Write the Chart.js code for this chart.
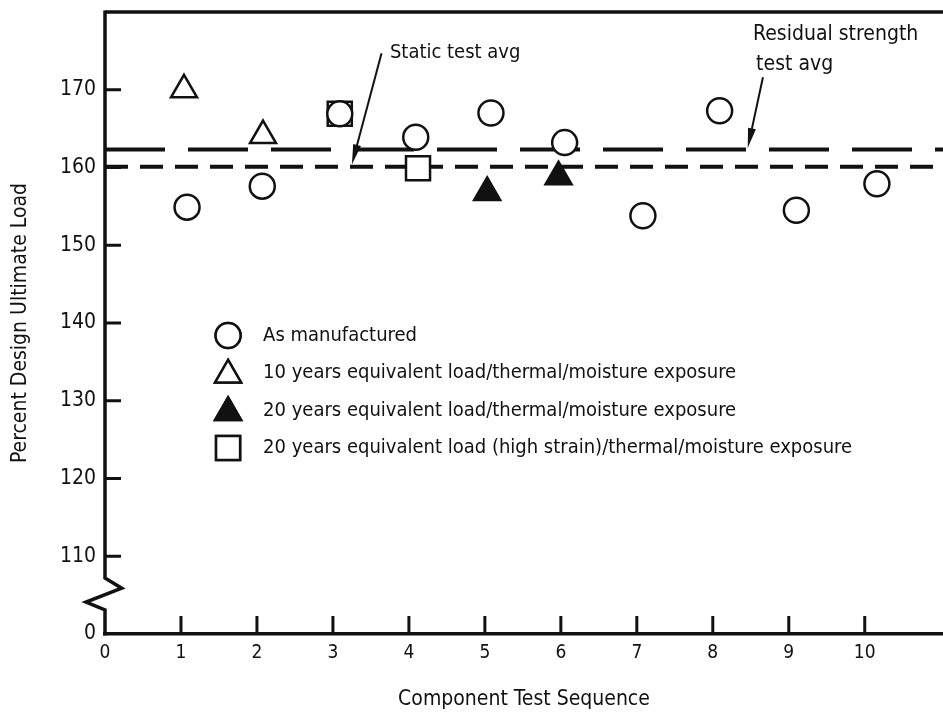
<!DOCTYPE html>
<html>
<head>
<meta charset="utf-8">
<script src="https://cdn.jsdelivr.net/npm/chart.js@4"></script>
<style>
  html, body { margin: 0; padding: 0; background: #fff; }
  #wrap { width: 943px; height: 717px; }
</style>
</head>
<body>
<div id="wrap"><canvas id="myChart" width="943" height="717"></canvas></div>
<script>
// values
const asManufacturedX = [1.08, 2.07, 3.09, 4.09, 5.08, 6.05, 7.08, 8.09, 9.1, 10.16];
const asManufacturedY = [154.9, 157.6, 166.9, 163.9, 167.0, 163.2, 153.8, 167.3, 154.5, 157.9];
const tenYearX = [1.04, 2.08];
const tenYearY = [170.0, 164.1];
const twentyYearX = [5.03, 5.97];
const twentyYearY = [156.8, 158.8];
const highStrainX = [3.09, 4.12];
const highStrainY = [166.9, 159.9];
const residualAvg = 162.3;
const staticAvg = 160.1;
const yTicks = [100, 110, 120, 130, 140, 150, 160, 170, 180];
const xTicks = [0, 1, 2, 3, 4, 5, 6, 7, 8, 9, 10];
const legendLabels = [
  "As manufactured",
  "10 years equivalent load/thermal/moisture exposure",
  "20 years equivalent load/thermal/moisture exposure",
  "20 years equivalent load (high strain)/thermal/moisture exposure"
];

const FONT = "'Liberation Sans Narrow', 'DejaVu Sans Condensed', sans-serif";
const INK = "#111";

const pts = (xs, ys) => xs.map((x, i) => ({x: x, y: ys[i]}));

// no extra room for half labels, the box is set by hand
const noPad = (scale) => {
  scale.paddingTop = 0;
  scale.paddingBottom = 0;
  scale.paddingLeft = 0;
  scale.paddingRight = 0;
};

// frame, inward ticks, axis break, legend, arrows
const paperPlugin = {
  id: "paper",
  afterDatasetsDraw(chart) {
    const ctx = chart.ctx;
    const xs = chart.scales.x, ys = chart.scales.y;
    const X = v => xs.getPixelForValue(v), Y = v => ys.getPixelForValue(v);
    const area = chart.chartArea;
    ctx.save();
    ctx.strokeStyle = INK;
    ctx.fillStyle = INK;
    ctx.lineCap = "butt";
    ctx.lineJoin = "miter";

    // top border
    ctx.lineWidth = 3.5;
    ctx.beginPath();
    ctx.moveTo(X(0), area.top);
    ctx.lineTo(chart.width, area.top);
    ctx.stroke();

    // y axis with the break
    ctx.lineWidth = 3.5;
    ctx.beginPath();
    ctx.moveTo(X(0), area.top - 1.5);
    ctx.lineTo(X(0), Y(107.2));
    ctx.lineTo(X(0.22), Y(105.9));
    ctx.lineTo(X(-0.25), Y(104.1));
    ctx.lineTo(X(0), Y(103.1));
    ctx.lineTo(X(0), area.bottom + 1.5);
    ctx.stroke();

    // inward ticks
    ctx.lineWidth = 3;
    yTicks.forEach(v => {
      if (v === 100 || v === 180) return;
      ctx.beginPath();
      ctx.moveTo(X(0), Y(v));
      ctx.lineTo(X(0) + 16, Y(v));
      ctx.stroke();
    });
    xTicks.forEach(v => {
      if (v === 0) return;
      ctx.beginPath();
      ctx.moveTo(X(v), area.bottom);
      ctx.lineTo(X(v), area.bottom - 18);
      ctx.stroke();
    });

    // legend
    const lx = X(1.62), ly = Y(138.4);
    const styles = ["circle", "triangle", "triangle", "rect"];
    const fills = ["#fff", "#fff", INK, "#fff"];
    const radii = [12.5, 15, 15, 17];
    ctx.font = "20px " + FONT;
    ctx.textBaseline = "middle";
    ctx.textAlign = "left";
    legendLabels.forEach((txt, i) => {
      const cy = ly + i * 37.5;
      ctx.lineWidth = 2.5;
      ctx.fillStyle = fills[i];
      Chart.helpers.drawPoint(ctx, {pointStyle: styles[i], radius: radii[i], rotation: 0, borderWidth: 2.5}, lx, cy + (i === 1 || i === 2 ? 2 : 0));
      ctx.fill();
      ctx.stroke();
      ctx.fillStyle = INK;
      ctx.fillText(txt, lx + 35, cy);
    });

    // annotation texts
    ctx.font = "20px " + FONT;
    ctx.fillText("Static test avg", X(3.75), Y(174.8));
    ctx.font = "21px " + FONT;
    ctx.fillText("Residual strength", X(8.53), Y(177.1));
    ctx.fillText("test avg", X(8.57), Y(173.2));

    // arrows
    const arrow = (x0, y0, x1, y1) => {
      const ax = X(x0), ay = Y(y0), bx = X(x1), by = Y(y1);
      const ang = Math.atan2(by - ay, bx - ax);
      ctx.lineWidth = 2;
      ctx.beginPath();
      ctx.moveTo(ax, ay);
      ctx.lineTo(bx - 14 * Math.cos(ang), by - 14 * Math.sin(ang));
      ctx.stroke();
      ctx.beginPath();
      ctx.moveTo(bx, by);
      ctx.lineTo(bx - 20 * Math.cos(ang) + 4 * Math.sin(ang), by - 20 * Math.sin(ang) - 4 * Math.cos(ang));
      ctx.lineTo(bx - 20 * Math.cos(ang) - 4 * Math.sin(ang), by - 20 * Math.sin(ang) + 4 * Math.cos(ang));
      ctx.closePath();
      ctx.fill();
    };
    arrow(3.64, 174.7, 3.25, staticAvg + 0.3);
    arrow(8.66, 171.6, 8.46, residualAvg + 0.2);

    ctx.restore();
  }
};

const ctx = document.getElementById("myChart").getContext("2d");
const myChart = new Chart(ctx, {
  type: "scatter",
  data: {
    datasets: [
      {
        label: "Residual strength test avg",
        type: "line",
        data: [{x: 0, y: residualAvg}, {x: 11.1, y: residualAvg}],
        borderColor: INK,
        borderWidth: 4,
        borderDash: [60, 23],
        pointRadius: 0,
        order: 6,
      },
      {
        label: "Static test avg",
        type: "line",
        data: [{x: 0, y: staticAvg}, {x: 11.1, y: staticAvg}],
        borderColor: INK,
        borderWidth: 4,
        borderDash: [23, 12],
        pointRadius: 0,
        order: 5,
      },
      {
        label: legendLabels[3],
        data: pts(highStrainX, highStrainY),
        pointStyle: "rect",
        pointRadius: 17,
        borderColor: INK,
        backgroundColor: "#fff",
        borderWidth: 2.5,
        order: 4,
      },
      {
        label: legendLabels[0],
        data: pts(asManufacturedX, asManufacturedY),
        pointStyle: "circle",
        pointRadius: 12.5,
        borderColor: INK,
        backgroundColor: "#fff",
        borderWidth: 2.5,
        order: 1,
      },
      {
        label: legendLabels[1],
        data: pts(tenYearX, tenYearY),
        pointStyle: "triangle",
        pointRadius: 15,
        borderColor: INK,
        backgroundColor: "#fff",
        borderWidth: 2.5,
        order: 2,
      },
      {
        label: legendLabels[2],
        data: pts(twentyYearX, twentyYearY),
        pointStyle: "triangle",
        pointRadius: 15,
        borderColor: INK,
        backgroundColor: INK,
        borderWidth: 2.5,
        order: 3,
      },
    ],
  },
  options: {
    responsive: false,
    animation: false,
    events: [],
    layout: { autoPadding: false, padding: { top: 12, right: 0, bottom: 0, left: 0 } },
    plugins: {
      legend: { display: false },
      tooltip: { enabled: false },
    },
    scales: {
      x: {
        type: "linear",
        min: 0,
        max: 11.03,
        afterBuildTicks: (scale) => { scale.ticks = xTicks.map(v => ({value: v})); },
        afterFit: (scale) => { scale.height = 83; noPad(scale); },
        ticks: {
          color: INK,
          padding: 8,
          maxRotation: 0,
          font: { family: FONT, size: 19 },
        },
        grid: { display: false, drawTicks: false },
        border: { display: true, color: INK, width: 3.5 },
        title: {
          display: true,
          text: "Component Test Sequence",
          color: INK,
          font: { family: FONT, size: 21 },
          padding: { top: 0, bottom: 5 },
        },
      },
      y: {
        type: "linear",
        min: 100,
        max: 180,
        afterBuildTicks: (scale) => { scale.ticks = yTicks.map(v => ({value: v})); },
        afterFit: (scale) => { scale.width = 105; noPad(scale); },
        ticks: {
          color: INK,
          padding: 9,
          font: { family: FONT, size: 21 },
          callback: (v) => v === 100 ? "0" : (v === 180 ? "" : v),
        },
        grid: { display: false, drawTicks: false },
        border: { display: false },
        title: {
          display: true,
          text: "Percent Design Ultimate Load",
          color: INK,
          font: { family: FONT, size: 21 },
          padding: { top: 8, bottom: 0 },
        },
      },
    },
  },
  plugins: [paperPlugin],
});
</script>
</body>
</html>
